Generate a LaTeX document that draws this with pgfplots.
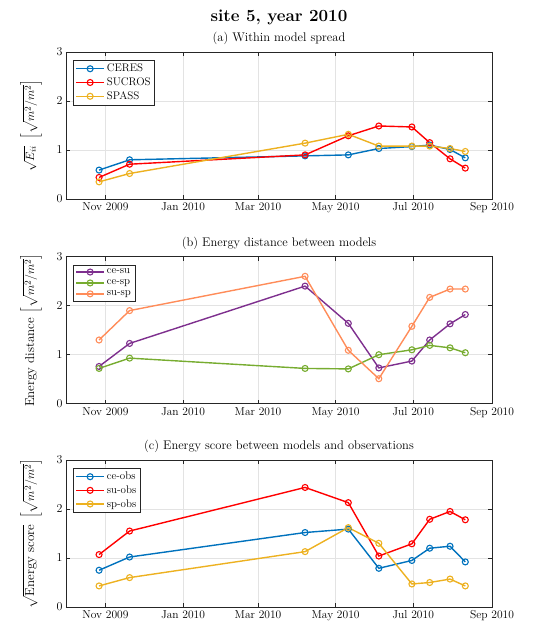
\documentclass[border=0pt]{standalone}
\usepackage{pgfplots}
\pgfplotsset{compat=1.18}
\usepackage{amsmath}

% MATLAB default colours
\definecolor{mblue}{rgb}{0,0.447,0.741}
\definecolor{mred}{rgb}{1,0,0}
\definecolor{myellow}{rgb}{0.929,0.694,0.125}
\definecolor{mpurple}{rgb}{0.494,0.184,0.556}
\definecolor{mgreen}{rgb}{0.466,0.674,0.188}
\definecolor{msalmon}{rgb}{1,0.55,0.35}

% x values: days since 1 Oct 2009
\pgfplotsset{
  panel/.style={
    scale only axis,
    width=426pt, height=147pt,
    xmin=0, xmax=335, ymin=0, ymax=3,
    xtick={31,92,151,212,273,335},
    xticklabels={Nov 2009,Jan 2010,Mar 2010,May 2010,Jul 2010,Sep 2010},
    ytick={0,1,2,3},
    tick align=inside,
    major tick length=4pt,
    grid=major,
    grid style={gray!22, line width=0.5pt},
    axis line style={black!85, line width=0.6pt},
    tick style={black!85, line width=0.6pt},
    tick label style={font=\fontsize{11.5}{13}\selectfont},
    every axis y label/.style={at={(axis description cs:-0.082,0.5)},
      rotate=90, anchor=center, font=\fontsize{13}{15}\selectfont},
    title style={font=\fontsize{12.5}{14}\selectfont, yshift=-2pt},
    legend cell align=left,
    legend style={at={(0.017,0.946)}, anchor=north west,
      font=\fontsize{11}{12}\selectfont, draw=black!85,
      inner sep=2pt, row sep=0.5pt},
    legend image code/.code={%
      \draw[line width=1.4pt, mark repeat=2, mark phase=2]
        plot coordinates {(0pt,0pt) (14pt,0pt) (28pt,0pt)};},
    every axis plot/.append style={line width=1.4pt, mark=o, mark size=3pt,
      mark options={solid, line width=1.1pt}},
  }
}

\begin{document}
\begin{tikzpicture}
\useasboundingbox (0pt,0pt) rectangle (553pt,-628pt);

\node[font=\bfseries\fontsize{17}{20}\selectfont] at (279pt,-17pt) {site 5, year 2010};

% (a) spread of each model
\begin{axis}[panel, at={(66pt,-52pt)}, anchor=north west,
  title={(a) Within model spread},
  ylabel={$\sqrt{E_{ii}}\ \left[\sqrt{m^2/m^2}\right]$}]
\addplot[mblue] coordinates {(26,0.59) (50,0.80) (188,0.88) (222,0.90) (246,1.03) (272,1.07) (286,1.10) (302,1.01) (314,0.84)};
\addlegendentry{CERES}
\addplot[mred] coordinates {(26,0.44) (50,0.71) (188,0.90) (222,1.29) (246,1.49) (272,1.47) (286,1.15) (302,0.82) (314,0.63)};
\addlegendentry{SUCROS}
\addplot[myellow] coordinates {(26,0.35) (50,0.52) (188,1.14) (222,1.32) (246,1.08) (272,1.08) (286,1.08) (302,1.03) (314,0.97)};
\addlegendentry{SPASS}
\end{axis}

% (b) distance between pairs of models
\begin{axis}[panel, at={(66pt,-256.7pt)}, anchor=north west,
  title={(b) Energy distance between models},
  ylabel={Energy distance $\left[\sqrt{m^2/m^2}\right]$}]
\addplot[mpurple] coordinates {(26,0.76) (50,1.23) (188,2.40) (222,1.64) (246,0.73) (272,0.87) (286,1.30) (302,1.63) (314,1.82)};
\addlegendentry{ce-su}
\addplot[mgreen] coordinates {(26,0.72) (50,0.93) (188,0.72) (222,0.71) (246,1.00) (272,1.10) (286,1.19) (302,1.14) (314,1.04)};
\addlegendentry{ce-sp}
\addplot[msalmon] coordinates {(26,1.30) (50,1.90) (188,2.60) (222,1.09) (246,0.51) (272,1.58) (286,2.17) (302,2.34) (314,2.34)};
\addlegendentry{su-sp}
\end{axis}

% (c) score of each model against the observations
\begin{axis}[panel, at={(66pt,-460pt)}, anchor=north west,
  title={(c) Energy score between models and observations},
  ylabel={$\sqrt{\text{Energy score}}\ \left[\sqrt{m^2/m^2}\right]$}]
\addplot[mblue] coordinates {(26,0.75) (50,1.02) (188,1.52) (222,1.59) (246,0.79) (272,0.95) (286,1.20) (302,1.24) (314,0.92)};
\addlegendentry{ce-obs}
\addplot[mred] coordinates {(26,1.07) (50,1.55) (188,2.44) (222,2.13) (246,1.04) (272,1.29) (286,1.79) (302,1.95) (314,1.78)};
\addlegendentry{su-obs}
\addplot[myellow] coordinates {(26,0.43) (50,0.60) (188,1.13) (222,1.62) (246,1.30) (272,0.47) (286,0.50) (302,0.57) (314,0.43)};
\addlegendentry{sp-obs}
\end{axis}
\end{tikzpicture}
\end{document}
